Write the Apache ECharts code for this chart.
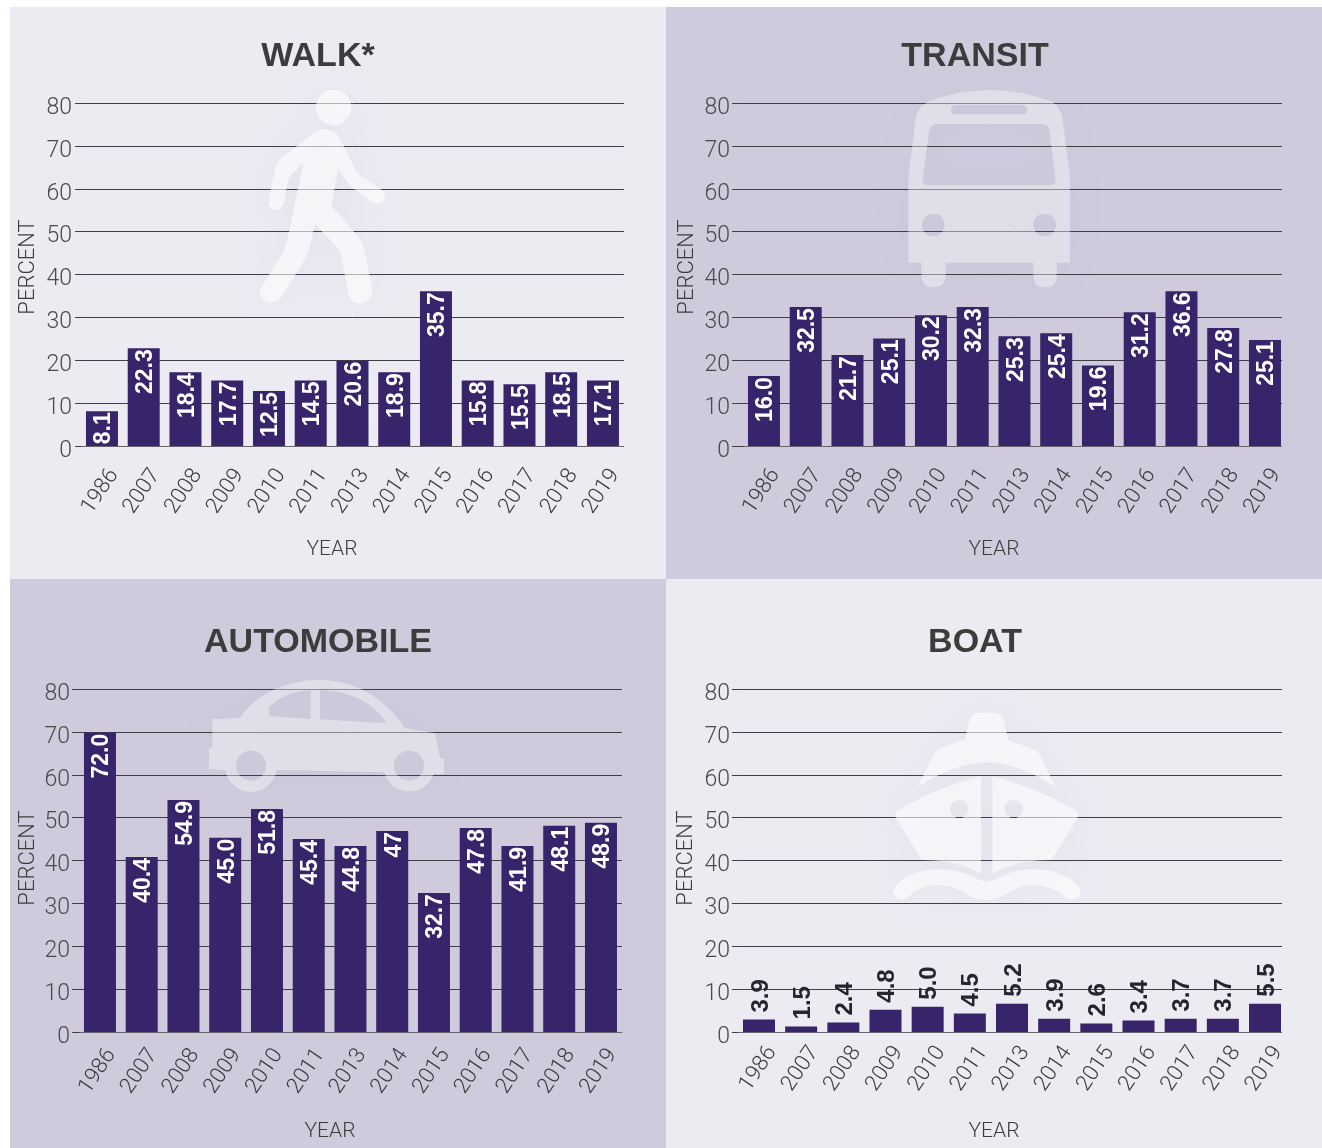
<!DOCTYPE html>
<html>
<head>
<meta charset="utf-8">
<title>Commute mode share</title>
<script src="https://cdn.jsdelivr.net/npm/echarts@6/dist/echarts.min.js"></script>
<style>
  html, body { margin: 0; padding: 0; background: #fff; }
  #chart { width: 1322px; height: 1148px; }
</style>
</head>
<body>
<div id="chart"></div>
<script>
const years = ['1986', '2007', '2008', '2009', '2010', '2011', '2013', '2014', '2015', '2016', '2017', '2018', '2019']
const yTicks = [0, 10, 20, 30, 40, 50, 60, 70, 80]

// bar heights are read off the picture, the printed labels do not always agree with them
const walkBars = [8.1, 22.8, 17.2, 15.3, 12.8, 15.3, 19.9, 17.2, 36.1, 15.3, 14.4, 17.2, 15.3]
const walkLabels = ['8.1', '22.3', '18.4', '17.7', '12.5', '14.5', '20.6', '18.9', '35.7', '15.8', '15.5', '18.5', '17.1']

const transitBars = [16.3, 32.4, 21.2, 25.1, 30.5, 32.4, 25.6, 26.3, 18.8, 31.2, 36.1, 27.5, 24.7]
const transitLabels = ['16.0', '32.5', '21.7', '25.1', '30.2', '32.3', '25.3', '25.4', '19.6', '31.2', '36.6', '27.8', '25.1']

const autoBars = [69.8, 40.8, 54.1, 45.3, 52.0, 45.0, 43.4, 46.9, 32.4, 47.6, 43.4, 48.1, 48.8]
const autoLabels = ['72.0', '40.4', '54.9', '45.0', '51.8', '45.4', '44.8', '47', '32.7', '47.8', '41.9', '48.1', '48.9']

const boatBars = [2.9, 1.3, 2.2, 5.2, 5.9, 4.3, 6.6, 3.1, 2.0, 2.7, 3.1, 3.1, 6.6]
const boatLabels = ['3.9', '1.5', '2.4', '4.8', '5.0', '4.5', '5.2', '3.9', '2.6', '3.4', '3.7', '3.7', '5.5']

const lightBg = '#ecebf2'
const darkBg = '#cfcbdd'
const barColor = '#37246a'
const textColor = '#4a4a4a'
const lineColor = '#3f3d45'
const lightFont = 'Roboto, "Liberation Sans", sans-serif'
const boldFont = '"Liberation Sans", Arial, sans-serif'

const panels = [
  { title: 'WALK*', titleX: 318, titleY: 40, bars: walkBars, labels: walkLabels, left: 81.1, top: 103, width: 542.75, tick: 6, yMargin: 9, xMargin: 43, xPad: 6, bg: lightBg, rect: [10, 7, 656, 572], nameX: 41, nameY: 15, nameGapX: 93, nameGapY: 42 },
  { title: 'TRANSIT', titleX: 975, titleY: 40, bars: transitBars, labels: transitLabels, left: 743.1, top: 103, width: 542.75, tick: 11, yMargin: 13, xMargin: 42, xPad: 8, bg: darkBg, rect: [666, 7, 656, 572], nameX: 41, nameY: 15, nameGapX: 93, nameGapY: 45 },
  { title: 'AUTOMOBILE', titleX: 318, titleY: 626, bars: autoBars, labels: autoLabels, left: 79.1, top: 689, width: 542.75, tick: 7, yMargin: 9, xMargin: 36, xPad: 8, bg: darkBg, rect: [10, 579, 656, 569], nameX: 41, nameY: 5, nameGapX: 89, nameGapY: 40 },
  { title: 'BOAT', titleX: 975, titleY: 626, bars: boatBars, labels: boatLabels, left: 737.9, top: 689, width: 548.2, tick: 6, yMargin: 8, xMargin: 36, xPad: 2, outside: true, bg: lightBg, rect: [666, 579, 656, 569], nameX: 36, nameY: 5, nameGapX: 89, nameGapY: 40 },
]
const plotHeight = 343

// watermark icons, traced at 3x from crops of the picture
const walkerPath = 'M348 82A53 53 0 1 1 454 82A53 53 0 1 1 348 82ZM345 155Q375 138 410 160L435 205L470 275Q476 285 490 293L545 330Q565 348 552 362Q535 380 515 365L460 325Q440 308 415 268L393 375L478 475Q490 490 492 505L516 625Q520 665 482 670Q450 672 444 635L422 520Q418 510 410 500L345 433L330 495Q325 520 310 545L245 650Q225 678 195 662Q170 645 185 620L250 515Q258 500 262 480L310 250L272 285Q265 295 262 310L252 365Q245 392 225 390Q200 385 207 355L228 255Q232 245 245 235Z'
const busPath = 'M145 65Q330 -5 515 65Q540 80 547 110L570 290L570 548L530 548L530 590Q528 622 495 622Q462 622 460 590L460 548L197 548L197 590Q195 622 160 622Q127 622 125 590L125 548L85 548L85 290L108 110Q115 80 145 65ZM228 75Q213 75 213 89Q213 103 228 103L426 103Q441 103 441 89Q441 75 426 75ZM170 132Q152 132 148 150L128 298Q128 316 146 316L510 316Q528 316 527 298L508 150Q505 132 488 132ZM126 435A34 34 0 1 0 194 435A34 34 0 1 0 126 435ZM460 435A34 34 0 1 0 528 435A34 34 0 1 0 460 435Z'
const carPath = 'M67 148L150 143C200 70 290 30 390 30C500 30 590 90 645 175L735 190L750 265L762 265L762 312L731 312A78 78 0 0 1 582 307L260 300A78 78 0 0 1 106 300L57 297L57 232L67 232ZM237 112L237 138L362 147L362 60Q280 65 237 112ZM390 60L390 148L590 160Q530 65 390 60ZM138 287A45 45 0 1 0 228 287A45 45 0 1 0 138 287ZM612 287A45 45 0 1 0 702 287A45 45 0 1 0 612 287Z'
const shipPath = 'M325 38L375 38Q395 40 402 65L415 120L490 148Q505 155 512 170L557 262Q450 190 350 187Q250 190 143 262L190 165Q200 150 215 143L285 118L298 62Q305 40 325 38ZM333 228L333 520Q260 480 155 480L78 355Q70 340 85 330Q200 262 333 228ZM367 228Q500 262 615 330Q630 340 622 355L545 480Q440 480 367 520ZM240 327A28 28 0 1 0 296 327A28 28 0 1 0 240 327ZM403 327A28 28 0 1 0 459 327A28 28 0 1 0 403 327ZM75 560Q120 508 205 508Q270 508 310 532Q350 555 390 532Q430 508 490 508Q580 508 625 560Q640 580 620 595Q600 605 585 590Q540 555 490 555Q450 555 415 580Q350 620 285 580Q250 555 205 555Q150 555 115 590Q100 605 82 595Q62 580 75 560Z'

echarts.graphic.registerShape('walkerIcon', echarts.graphic.extendPath(walkerPath))
echarts.graphic.registerShape('busIcon', echarts.graphic.extendPath(busPath))
echarts.graphic.registerShape('carIcon', echarts.graphic.extendPath(carPath))
echarts.graphic.registerShape('shipIcon', echarts.graphic.extendPath(shipPath))

const icons = [
  { type: 'walkerIcon', x: 200, y: 80, fill: 'rgba(255,255,255,0.6)' },
  { type: 'busIcon', x: 880, y: 80, fill: 'rgba(255,255,255,0.4)' },
  { type: 'carIcon', x: 190, y: 670, fill: 'rgba(255,255,255,0.4)' },
  { type: 'shipIcon', x: 870, y: 700, fill: 'rgba(255,255,255,0.6)' },
]

const chart = echarts.init(document.getElementById('chart'))

const graphics = []
panels.forEach((p) => {
  graphics.push({
    type: 'rect', z: -10, silent: true,
    shape: { x: p.rect[0], y: p.rect[1], width: p.rect[2], height: p.rect[3] },
    style: { fill: p.bg },
  })
})
icons.forEach((ic) => {
  graphics.push({
    type: ic.type, z: 1, silent: true,
    x: ic.x, y: ic.y, scaleX: 1 / 3, scaleY: 1 / 3,
    shape: {},
    style: { fill: ic.fill, shadowBlur: 50, shadowColor: 'rgba(120,110,160,0.1)' },
  })
})
// gridlines of the right-hand panels stop a little short of the last band
graphics.push({ type: 'rect', z: 1, silent: true, shape: { x: 1282, y: 98, width: 6, height: 352 }, style: { fill: darkBg } })
graphics.push({ type: 'rect', z: 1, silent: true, shape: { x: 1282, y: 684, width: 6, height: 352 }, style: { fill: lightBg } })

const option = {
  animation: false,
  title: panels.map((p) => ({
    text: p.title,
    left: p.titleX,
    top: p.titleY,
    padding: 0,
    textAlign: 'center',
    textStyle: { fontFamily: boldFont, fontSize: 34, fontWeight: 'bold', color: '#3c3c3c' },
  })),
  grid: panels.map((p) => ({ left: p.left, top: p.top, width: p.width, height: plotHeight, outerBoundsMode: 'none' })),
  xAxis: panels.map((p, i) => ({
    type: 'category',
    gridIndex: i,
    data: years,
    name: 'YEAR',
    nameLocation: 'middle',
    nameGap: p.nameGapX,
    nameTextStyle: { fontFamily: lightFont, fontWeight: 300, fontSize: 21, color: '#3c3c3c', padding: [0, p.nameX, 0, 0] },
    axisLine: { show: true, lineStyle: { color: '#66646c', width: 1 } },
    axisTick: { show: false },
    axisLabel: {
      interval: 0,
      rotate: 56,
      align: 'center',
      verticalAlign: 'middle',
      margin: p.xMargin,
      padding: [0, p.xPad, 0, 0],
      fontFamily: lightFont,
      fontWeight: 300,
      fontSize: 22,
      color: '#3c3c3c',
    },
  })),
  yAxis: panels.map((p, i) => ({
    type: 'value',
    gridIndex: i,
    min: 0,
    max: 80,
    interval: 10,
    name: 'PERCENT',
    nameLocation: 'middle',
    nameRotate: 90,
    nameGap: p.nameGapY,
    nameTextStyle: { fontFamily: lightFont, fontWeight: 300, fontSize: 22, color: '#3c3c3c', padding: [0, 0, 0, p.nameY] },
    axisLine: { show: false },
    axisTick: { show: true, length: p.tick, lineStyle: { color: lineColor, width: 1 } },
    splitLine: { show: true, lineStyle: { color: lineColor, width: 1 } },
    axisLabel: {
      margin: p.yMargin,
      formatter: (v) => (yTicks.includes(v) ? `{tick|${v}}` : ''),
      rich: {
        tick: { padding: [10, 0, 0, 0], fontFamily: lightFont, fontWeight: 300, fontSize: 23, color: textColor },
      },
    },
  })),
  series: panels.map((p, i) => ({
    type: 'bar',
    xAxisIndex: i,
    yAxisIndex: i,
    z: 3,
    barWidth: 32,
    data: p.bars,
    itemStyle: { color: barColor },
    label: {
      show: true,
      position: p.outside ? 'top' : 'insideTop',
      distance: p.outside ? 7 : 1,
      rotate: 90,
      align: p.outside ? 'left' : 'right',
      verticalAlign: 'middle',
      offset: [0, 2],
      formatter: (d) => p.labels[d.dataIndex],
      fontFamily: boldFont,
      fontWeight: 'bold',
      fontSize: p.outside ? 24 : 23,
      color: p.outside ? '#26242c' : '#ffffff',
    },
  })),
  graphic: { elements: graphics },
}

chart.setOption(option)
window.addEventListener('resize', () => chart.resize())
</script>
</body>
</html>
